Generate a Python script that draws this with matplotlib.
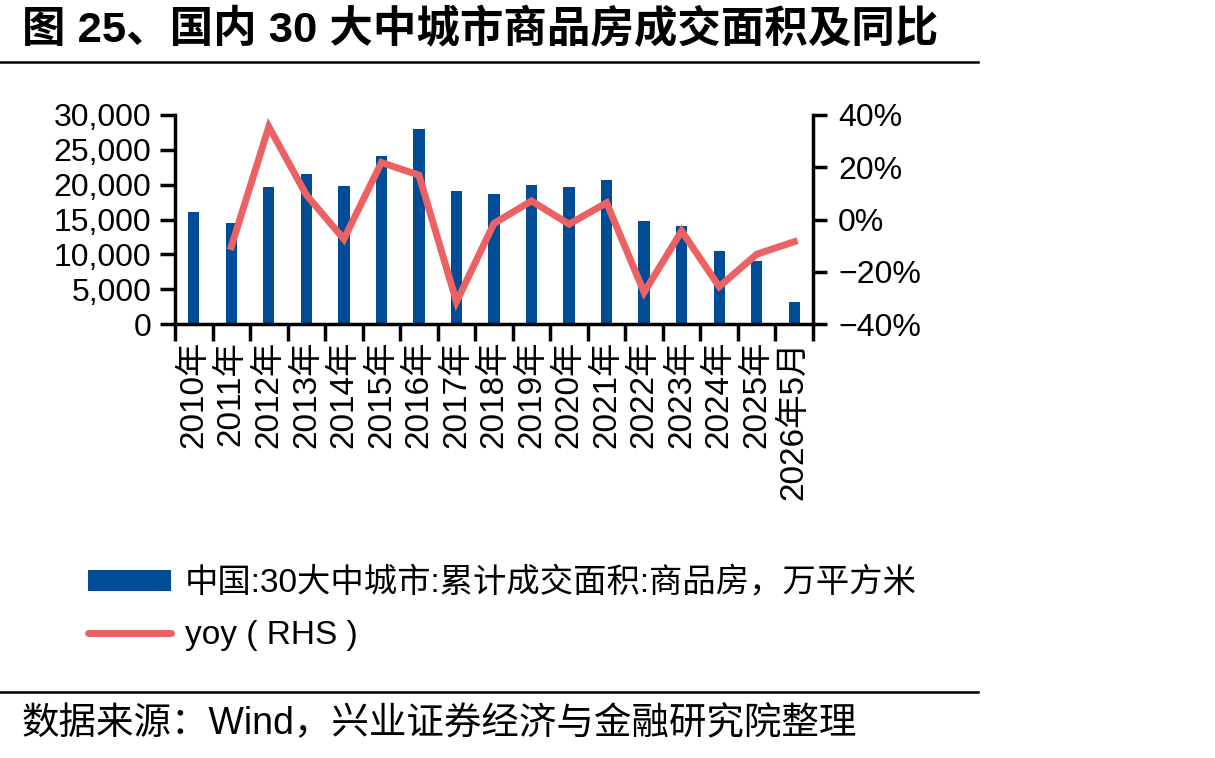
import numpy as np
import matplotlib
matplotlib.use('Agg')
import matplotlib.pyplot as plt
from matplotlib.lines import Line2D
from matplotlib.patches import Patch
from matplotlib.ticker import FuncFormatter, FixedLocator

plt.rcParams['font.family'] = ['Liberation Sans', 'Noto Sans CJK SC']
plt.rcParams['axes.unicode_minus'] = True

# 数据
years = ['2010年', '2011年', '2012年', '2013年', '2014年', '2015年', '2016年', '2017年',
         '2018年', '2019年', '2020年', '2021年', '2022年', '2023年', '2024年', '2025年', '2026年5月']
area = [16100, 14500, 19700, 21600, 19800, 24100, 28000, 19100,
        18700, 20000, 19600, 20700, 14800, 14100, 10500, 9100, 3200]
yoy = [np.nan, -10.4, 35.5, 9.4, -7.5, 21.8, 17.0, -31.5,
       -1.5, 7.1, -1.8, 6.4, -27.9, -4.4, -25.7, -13.3, -8.5]

bar_label = '中国:30大中城市:累计成交面积:商品房，万平方米'
line_label = 'yoy ( RHS )'
blue = '#004C97'
red = '#EC6262'

W, H = 1215, 758
fig = plt.figure(figsize=(W / 100, H / 100), dpi=100)

ax = fig.add_axes([175 / W, 1 - 324 / H, (813 - 175) / W, (324 - 115) / H])
x = np.arange(len(years))
ax.bar(x, area, width=0.3, color=blue, zorder=2)
ax.set_xlim(-0.5, len(years) - 0.5)
ax.set_ylim(0, 30000)
ax.set_yticks(np.arange(0, 30001, 5000))
ax.yaxis.set_major_formatter(FuncFormatter(lambda v, p: f'{v:,.0f}'))

ax.set_xticks(x)
ax.set_xticklabels(years, rotation=90, fontsize=24)
ax.xaxis.set_minor_locator(FixedLocator(np.arange(-0.5, len(years), 1.0)))
ax.tick_params(axis='x', which='major', length=0, pad=12)
ax.tick_params(axis='x', which='minor', length=12, width=2.5, direction='out')
ax.tick_params(axis='y', length=11, width=2.5, labelsize=23, pad=6)

for s in ['top', 'right']:
    ax.spines[s].set_visible(False)
for s in ['left', 'bottom']:
    ax.spines[s].set_linewidth(2.5)

ax2 = ax.twinx()
ax2.plot(x, yoy, color=red, lw=5, solid_joinstyle='miter', zorder=3)
ax2.set_ylim(-40, 40)
ax2.set_yticks([-40, -20, 0, 20, 40])
ax2.yaxis.set_major_formatter(FuncFormatter(lambda v, p: f'{v:.0f}%'.replace('-', '\u2212')))
ax2.tick_params(axis='y', length=10, width=2.5, labelsize=23, pad=8)
for s in ['top', 'left', 'bottom']:
    ax2.spines[s].set_visible(False)
ax2.spines['right'].set_linewidth(2.5)

handles = [Patch(facecolor=blue, edgecolor='none'),
           Line2D([0], [0], color=red, lw=5, solid_capstyle='round')]
fig.legend(handles, [bar_label, line_label], loc='upper left',
           bbox_to_anchor=(88 / W, 1 - 567 / H), frameon=False, fontsize=24,
           handlelength=2.5, handleheight=0.6, handletextpad=0.4,
           labelspacing=0.62, borderpad=0, borderaxespad=0)

# 标题和来源
fig.text(22 / W, 1 - 30 / H, '图 25、国内 30 大中城市商品房成交面积及同比',
         fontsize=31.3, fontweight='bold', va='center', ha='left')
fig.add_artist(Line2D([0, 978 / W], [1 - 62 / H, 1 - 62 / H], color='black', lw=1.8))
fig.add_artist(Line2D([0, 978 / W], [1 - 692 / H, 1 - 692 / H], color='black', lw=1.8))
fig.text(22 / W, 1 - 724 / H, '数据来源：Wind，兴业证券经济与金融研究院整理',
         fontsize=27, va='center', ha='left')

fig.savefig('out.png', dpi=100)
